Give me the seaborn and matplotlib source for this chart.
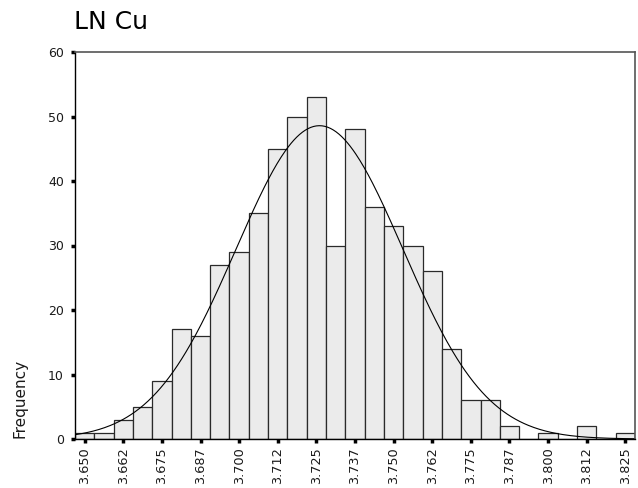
import numpy as np
import pandas as pd
import matplotlib
matplotlib.use("Agg")
import matplotlib.pyplot as plt
import seaborn as sns

# Data
bin_centers = [3.650, 3.65625, 3.6625, 3.66875, 3.675, 3.68125, 3.6875, 3.69375,
               3.700, 3.70625, 3.7125, 3.71875, 3.725, 3.73125, 3.7375, 3.74375,
               3.750, 3.75625, 3.7625, 3.76875, 3.775, 3.78125, 3.7875, 3.79375,
               3.800, 3.80625, 3.8125, 3.81875, 3.825]
counts = [1, 1, 3, 5, 9, 17, 16, 27, 29, 35, 45, 50, 53, 30, 48, 36,
          33, 30, 26, 14, 6, 6, 2, 0, 1, 0, 2, 0, 1]
bin_width = 0.00625
tick_values = [3.650, 3.6625, 3.675, 3.6875, 3.700, 3.7125, 3.725, 3.7375,
               3.750, 3.7625, 3.775, 3.7875, 3.800, 3.8125, 3.825]
tick_labels = ["3.650", "3.662", "3.675", "3.687", "3.700", "3.712", "3.725",
               "3.737", "3.750", "3.762", "3.775", "3.787", "3.800", "3.812", "3.825"]
y_ticks = [0, 10, 20, 30, 40, 50, 60]
fit_mean = 3.726
fit_sd = 0.027

sns.set_style("white")
plt.rcParams['font.family'] = ['DejaVu Sans']

df = pd.DataFrame({"value": bin_centers, "count": counts})
edges = [c - bin_width / 2 for c in bin_centers] + [bin_centers[-1] + bin_width / 2]

fig = plt.figure(figsize=(6.38, 4.88), dpi=100)
ax = fig.add_axes([75/638, (488-439)/488, 560/638, 387/488])

sns.histplot(data=df, x="value", weights="count", bins=edges, ax=ax,
             color="#ebebeb", edgecolor="#2a2a2a", linewidth=0.9, alpha=1.0)

n_total = sum(counts)
xs = np.linspace(edges[0], edges[-1], 400)
ys = n_total * bin_width / (fit_sd * np.sqrt(2 * np.pi)) * np.exp(-0.5 * ((xs - fit_mean) / fit_sd) ** 2)
sns.lineplot(x=xs, y=ys, ax=ax, color="black", linewidth=0.8)

ax.set_xlim(edges[0], edges[-1])
ax.set_ylim(0, 60)
ax.set_xticks(tick_values)
ax.set_xticklabels(tick_labels, rotation=90, fontsize=9.3, color="#1a1a1a")
ax.set_yticks(y_ticks)
ax.set_yticklabels([str(v) for v in y_ticks], fontsize=9, color="#1a1a1a")
ax.tick_params(axis="both", direction="out", length=3, width=2.5, color="black")
ax.tick_params(axis="x", pad=3)
ax.tick_params(axis="y", pad=5)
ax.tick_params(axis="both", which="both", bottom=True, left=True)
ax.set_xlabel("")
ax.set_ylabel("")

for side in ["left", "bottom"]:
    ax.spines[side].set_color("black")
    ax.spines[side].set_linewidth(1.0)
for side in ["top", "right"]:
    ax.spines[side].set_visible(True)
    ax.spines[side].set_color("#555555")
    ax.spines[side].set_linewidth(1.2)

fig.text(20/638, (488-438)/488, "Frequency", rotation=90, ha="center", va="bottom",
         fontsize=11, color="#1a1a1a")
fig.text(74/638, 1 - 29/488, "LN Cu", ha="left", va="baseline", fontsize=18, color="black")

fig.savefig("out.png", dpi=100)
